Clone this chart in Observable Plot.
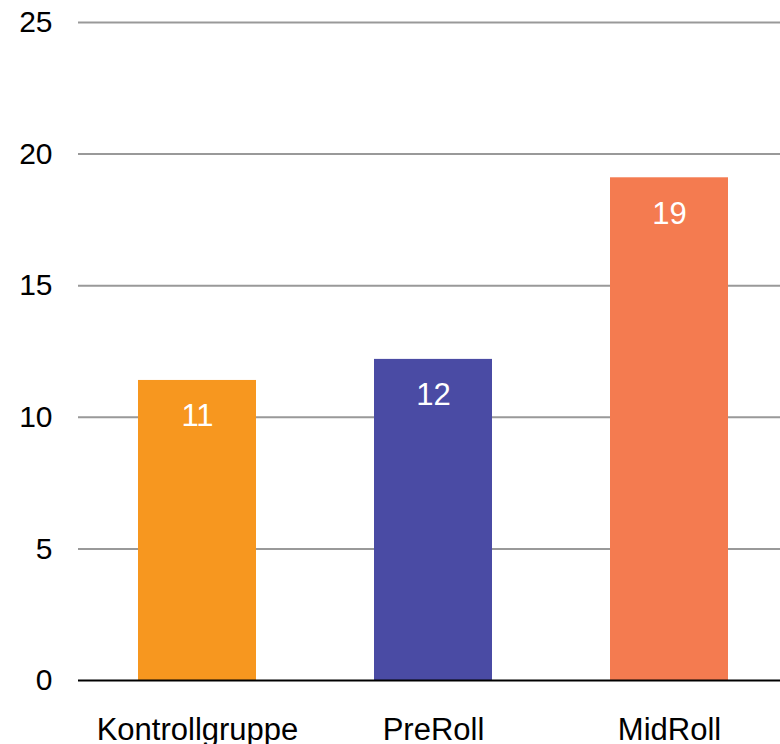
<!DOCTYPE html>
<html><head><meta charset="utf-8">
<script src="https://cdn.jsdelivr.net/npm/d3@7"></script>
<script src="https://cdn.jsdelivr.net/npm/@observablehq/plot@0.6"></script>
<style>body{margin:0;overflow:hidden;background:#fff}</style>
</head><body><div id="chart"></div>
<script>
const categories = ["Kontrollgruppe", "PreRoll", "MidRoll"];
const values = [11.4, 12.2, 19.1];
const labels = ["11", "12", "19"];
const colors = ["#F7971F", "#4A4BA4", "#F47B50"];
const yTicks = [0, 5, 10, 15, 20, 25];

const data = categories.map((c, i) => ({category: c, value: values[i], label: labels[i], color: colors[i]}));

const chart = Plot.plot({
  width: 780,
  height: 744,
  marginLeft: 78,
  marginRight: 0,
  marginTop: 22,
  marginBottom: 64,
  style: {fontFamily: "Liberation Sans, Arial, sans-serif", fontSize: "31px", color: "#000", background: "#fff"},
  x: {domain: categories, range: [78, 787], paddingInner: 0.5, paddingOuter: 0.25, label: null},
  y: {domain: [0, 25], ticks: yTicks, label: null},
  marks: [
    Plot.ruleY(yTicks.filter(d => d > 0), {stroke: "#999", strokeWidth: 2, strokeOpacity: 1}),
    Plot.barY(data, {x: "category", y: "value", fill: "color"}),
    Plot.ruleY([0], {stroke: "#000", strokeWidth: 2}),
    Plot.text(data, {x: "category", y: "value", text: "label", dy: 36, fill: "#fff", fontSize: 31}),
    Plot.axisY({ticks: yTicks, tickSize: 0, tickPadding: 26, fontSize: 30, label: null}),
    Plot.axisX({tickSize: 0, tickPadding: 37, fontSize: 31, label: null})
  ]
});
document.getElementById("chart").appendChild(chart);
</script></body></html>
